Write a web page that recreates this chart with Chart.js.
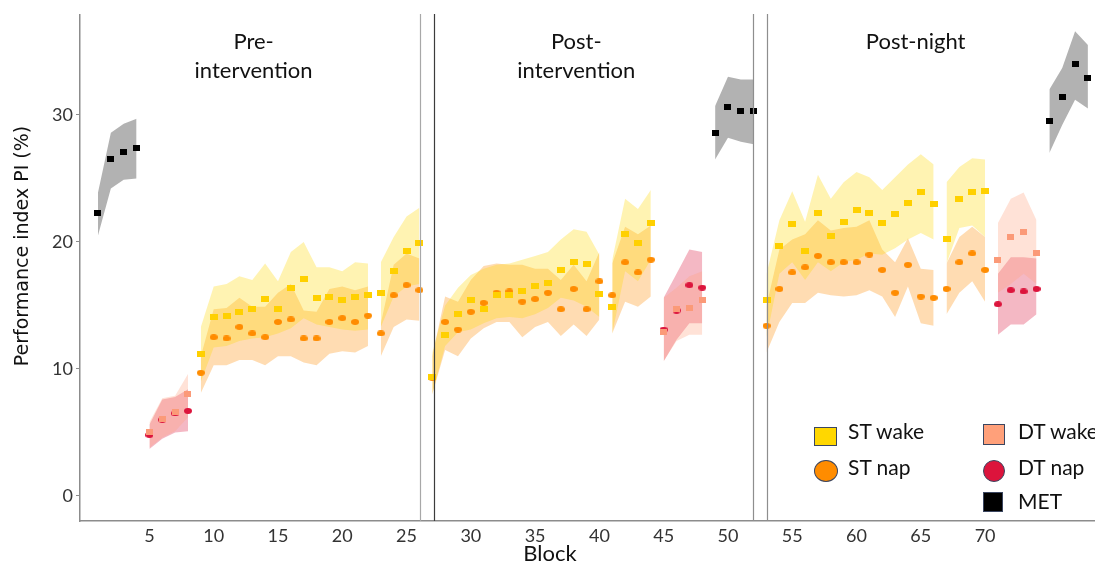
<!DOCTYPE html>
<html>
<head>
<meta charset="utf-8">
<script src="https://cdn.jsdelivr.net/npm/chart.js@4.4.0/dist/chart.umd.min.js"></script>
<style>
  body { margin: 0; background: #fff; }
  #wrap { position: relative; width: 1095px; height: 562px; overflow: hidden; }
  .lg { position: absolute; font-family: Lato, sans-serif; font-size: 21px; line-height: 1; color: #111; white-space: nowrap; }
  .mk { position: absolute; box-sizing: border-box; border: 1px solid #3b4660; }
</style>
</head>
<body>
<div id="wrap">
  <canvas id="c" width="1095" height="562"></canvas>
  <div class="mk" style="left:814px;top:427px;width:23px;height:19px;background:#ffd700"></div>
  <div class="lg" style="left:848px;top:420px">ST wake</div>
  <div class="mk" style="left:814px;top:460px;width:24px;height:22px;border-radius:50%;background:#ff8c00"></div>
  <div class="lg" style="left:848px;top:456px">ST nap</div>
  <div class="mk" style="left:983px;top:424px;width:22px;height:21px;background:#ffa07a"></div>
  <div class="lg" style="left:1018px;top:420px">DT wake</div>
  <div class="mk" style="left:983px;top:460px;width:22px;height:22px;border-radius:50%;background:#dc143c"></div>
  <div class="lg" style="left:1018px;top:456px">DT nap</div>
  <div class="mk" style="left:983px;top:492px;width:20px;height:20px;background:#000"></div>
  <div class="lg" style="left:1018px;top:490px">MET</div>
</div>
<script>
// block numbers, null = break between separately shaded runs
const stBlocks = [9,10,11,12,13,14,15,16,17,18,19,20,21,22,null,23,24,25,26,null,
  27,28,29,30,31,32,33,34,35,36,37,38,39,40,null,41,42,43,44,null,
  53,54,55,56,57,58,59,60,61,62,63,64,65,66,null,67,68,69,70];
const stWake   = [11.2,14.1,14.2,14.5,14.7,15.5,14.7,16.4,17.1,15.6,15.7,15.4,15.7,15.8,null,16.0,17.7,19.3,19.9,null,
  9.4,12.7,14.3,15.4,14.7,15.8,15.8,16.1,16.5,16.8,17.8,18.4,18.3,15.9,null,14.9,20.6,19.9,21.5,null,
  15.4,19.7,21.4,19.3,22.3,20.5,21.6,22.5,22.3,21.5,22.2,23.1,23.9,23.0,null,20.2,23.4,23.9,24.0];
const stWakeHi = [13.3,16.5,16.7,17.3,17.0,18.3,16.9,19.2,20.0,18.0,18.0,17.7,18.4,18.3,null,18.4,20.4,22.0,22.7,null,
  11.3,15.0,16.4,17.4,17.9,18.2,18.3,18.6,18.9,19.2,20.2,21.0,20.8,19.0,null,18.6,23.4,22.6,24.1,null,
  17.5,21.7,24.0,21.6,25.3,23.4,24.7,25.5,25.1,24.1,25.1,26.1,26.9,26.1,null,24.7,25.9,26.6,26.5];
const stWakeLo = [9.0,11.7,11.8,12.2,12.4,12.5,12.8,13.2,14.0,13.5,13.3,13.1,13.0,13.1,null,13.3,15.7,16.5,16.7,null,
  8.0,11.8,12.9,13.1,13.6,14.0,14.1,14.0,14.3,14.8,15.6,15.4,14.9,14.1,null,12.8,17.7,16.9,18.6,null,
  12.5,17.5,18.4,17.0,18.4,17.7,18.4,18.6,19.1,19.0,19.5,20.2,20.7,20.2,null,18.3,21.1,21.3,20.4];
const stNap    = [9.7,12.5,12.4,13.3,12.8,12.5,13.7,13.9,12.4,12.4,13.7,14.0,13.7,14.2,null,12.8,15.8,16.6,16.2,null,
  9.3,13.7,13.1,14.5,15.2,16.0,16.1,15.3,15.5,16.0,14.7,16.3,14.7,16.9,null,15.8,18.4,17.6,18.6,null,
  13.4,16.3,17.6,18.0,18.9,18.4,18.4,18.4,19.0,17.8,16.0,18.2,15.7,15.6,null,16.3,18.4,19.1,17.8];
const stNapHi  = [11.0,14.7,14.8,15.6,14.9,14.9,16.0,16.7,14.6,14.5,16.3,16.5,16.2,16.5,null,13.6,18.2,19.1,18.7,null,
  11.0,15.7,15.3,17.0,18.1,18.3,18.2,18.2,17.9,17.9,17.0,18.2,16.9,19.2,null,18.3,21.2,20.6,21.3,null,
  15.0,19.4,20.2,20.6,21.7,20.9,21.1,21.2,21.7,19.4,18.4,20.3,17.9,17.8,null,18.3,20.4,21.2,20.4];
const stNapLo  = [8.1,10.3,10.3,10.7,10.7,10.3,11.0,11.0,10.5,10.3,11.2,11.4,11.3,11.8,null,11.0,13.3,13.9,13.8,null,
  8.0,11.5,11.0,12.4,13.2,13.7,13.7,12.5,13.3,13.7,12.6,13.5,12.6,13.9,null,12.8,15.3,14.9,15.7,null,
  11.3,13.7,15.2,15.2,16.0,15.8,15.7,15.8,16.2,15.7,14.1,16.5,13.6,13.4,null,14.3,16.0,16.9,15.3];

const dtBlocks = [5,6,7,8,null,45,46,47,48,null,71,72,73,74];
const dtWake   = [5.0,6.1,6.6,8.0,null,12.9,14.7,14.8,15.4,null,18.6,20.4,20.8,19.1];
const dtWakeHi = [5.8,7.7,7.9,9.6,null,15.6,16.4,17.3,17.7,null,21.5,23.4,23.9,21.7];
const dtWakeLo = [3.8,4.6,5.1,6.2,null,10.6,12.2,12.7,12.7,null,16.0,16.7,17.5,16.7];
const dtNap    = [4.8,6.0,6.5,6.7,null,13.1,14.6,16.6,16.4,null,15.1,16.2,16.1,16.3];
const dtNapHi  = [5.6,7.6,7.8,8.4,null,15.6,17.5,19.4,19.2,null,17.5,18.8,18.8,18.7];
const dtNapLo  = [3.7,4.5,5.0,5.1,null,10.6,12.3,13.6,13.6,null,12.7,13.5,13.5,14.3];

const metBlocks = [1,2,3,4,null,49,50,51,52,null,75,76,77,78];
const met   = [22.3,26.5,27.1,27.4,null,28.6,30.6,30.3,30.3,null,29.5,31.4,34.0,32.9];
const metHi = [23.9,28.6,29.3,29.7,null,30.7,33.0,32.8,32.8,null,32.0,33.7,36.6,35.5];
const metLo = [20.5,24.2,24.9,25.0,null,26.5,28.2,27.9,27.7,null,27.0,29.2,31.2,30.5];

const xTicks = [5,10,15,20,25,30,35,40,45,50,55,60,65,70];
const yTicks = [0,10,20,30];
const sections = [['Pre-', 'intervention'], ['Post-', 'intervention'], ['Post-night']];

// split a series into runs at the null separators
function runs(xs, ys) {
  const out = [];
  let cur = [];
  xs.forEach((x, i) => {
    if (x === null) { if (cur.length) out.push(cur); cur = []; }
    else cur.push({ x, y: ys[i] });
  });
  if (cur.length) out.push(cur);
  return out;
}

function band(xs, hi, lo, color) {
  const H = runs(xs, hi), L = runs(xs, lo), ds = [];
  H.forEach((seg, k) => {
    ds.push({ data: seg, order: 10, borderColor: 'transparent', borderWidth: 0, pointRadius: 0, fill: '+1', backgroundColor: color });
    ds.push({ data: L[k], order: 10, borderColor: 'transparent', borderWidth: 0, pointRadius: 0, fill: false });
  });
  return ds;
}

function mark(w, h, color, round) {
  const c = document.createElement('canvas');
  c.width = w; c.height = h;
  const g = c.getContext('2d');
  g.fillStyle = color;
  if (round) { g.beginPath(); g.ellipse(w / 2, h / 2, w / 2, h / 2, 0, 0, Math.PI * 2); g.fill(); }
  else g.fillRect(0, 0, w, h);
  return c;
}

function points(xs, ys, style, order) {
  return { data: runs(xs, ys).flat(), showLine: false, pointStyle: style, order };
}

const datasets = [
  points(metBlocks, met, mark(7, 6, '#000'), 1),
  points(stBlocks, stWake, mark(8, 6, '#ffd000'), 1),
  points(stBlocks, stNap, mark(8, 6, '#ff8c00', true), 2),
  points(dtBlocks, dtWake, mark(7, 6, '#fb9a78'), 1),
  points(dtBlocks, dtNap, mark(8, 6, '#dc143c', true), 2),
  ...band(metBlocks, metHi, metLo, 'rgba(0,0,0,0.3)'),
  ...band(stBlocks, stWakeHi, stWakeLo, 'rgba(255,215,0,0.3)'),
  ...band(stBlocks, stNapHi, stNapLo, 'rgba(255,140,0,0.3)'),
  ...band(dtBlocks, dtWakeHi, dtWakeLo, 'rgba(255,160,122,0.3)'),
  ...band(dtBlocks, dtNapHi, dtNapLo, 'rgba(220,20,60,0.3)')
];

const decor = {
  id: 'decor',
  afterDatasetsDraw(chart, args, opts) {
    const { ctx, chartArea: a, scales: { x } } = chart;
    ctx.save();
    opts.dividers.forEach(([v, col]) => {
      const px = Math.round(x.getPixelForValue(v)) + 0.5;
      ctx.strokeStyle = col;
      ctx.lineWidth = 1.2;
      ctx.beginPath(); ctx.moveTo(px, a.top - 1); ctx.lineTo(px, a.bottom); ctx.stroke();
    });
    ctx.fillStyle = '#111';
    ctx.textAlign = 'center';
    ctx.textBaseline = 'middle';
    ctx.font = '22px Lato';
    sections.forEach((lines, i) => {
      const px = x.getPixelForValue(opts.headerAt[i]);
      lines.forEach((t, j) => ctx.fillText(t, px, 42 + j * 29));
    });
    ctx.textBaseline = 'alphabetic';
    ctx.fillText('Block', 550, 561);
    ctx.translate(23, 246);
    ctx.rotate(-Math.PI / 2);
    ctx.textBaseline = 'middle';
    ctx.font = '19px "DejaVu Sans"';
    ctx.fillText('Performance index PI (%)', 0, 0);
    ctx.restore();
  }
};

new Chart(document.getElementById('c'), {
  type: 'line',
  data: { datasets },
  options: {
    responsive: false,
    animation: false,
    layout: { autoPadding: false, padding: { top: 15, left: 0, right: 0, bottom: 0 } },
    plugins: {
      legend: { display: false },
      tooltip: { enabled: false },
      decor: {
        dividers: [[26.02, '#a8a8a8'], [27.15, '#3c3c3c'], [51.97, '#8e8e8e'], [53.06, '#8e8e8e']],
        headerAt: [13.1, 38.2, 64.6]
      }
    },
    scales: {
      x: {
        type: 'linear', min: -0.4, max: 78.55,
        afterFit: s => { s.height = 41; },
        afterBuildTicks: s => { s.ticks = xTicks.map(v => ({ value: v })); },
        grid: { display: false, drawTicks: false },
        border: { display: true, color: '#8c8c8c', width: 1.5 },
        ticks: { padding: 4, color: '#333', maxRotation: 0, autoSkip: false, font: { family: 'Lato', size: 18 } }
      },
      y: {
        type: 'linear', min: -1.97, max: 37.87,
        afterFit: s => { s.width = 80; },
        afterBuildTicks: s => { s.ticks = yTicks.map(v => ({ value: v })); },
        grid: { drawOnChartArea: false, drawTicks: true, tickLength: 4, color: '#8c8c8c' },
        border: { display: true, color: '#8c8c8c', width: 1.5 },
        ticks: { padding: 3, color: '#333', font: { family: 'Lato', size: 18 } }
      }
    }
  },
  plugins: [decor]
});
</script>
</body>
</html>
